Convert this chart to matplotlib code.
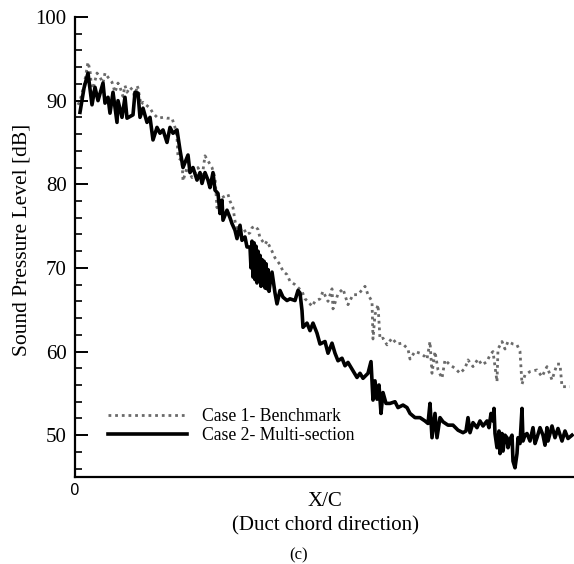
import numpy as np
import matplotlib.pyplot as plt

# Case 2 - multi-section duct (solid black)
x_case2 = [0.010, 0.018, 0.026, 0.034, 0.040, 0.046, 0.056, 0.060, 0.066, 0.070,
           0.076, 0.084, 0.086, 0.094, 0.100, 0.104, 0.116, 0.120, 0.126, 0.130,
           0.136, 0.144, 0.150, 0.156, 0.164, 0.170, 0.176, 0.184, 0.190, 0.196,
           0.204, 0.210, 0.216, 0.226, 0.230, 0.236, 0.244, 0.250, 0.254, 0.260,
           0.266, 0.270, 0.276, 0.280, 0.286, 0.290, 0.294, 0.296, 0.304, 0.310,
           0.314, 0.320, 0.324, 0.330, 0.334, 0.340, 0.344,
           0.350, 0.352, 0.354, 0.356, 0.358, 0.360, 0.362, 0.364, 0.366, 0.368,
           0.370, 0.372, 0.374, 0.376, 0.378, 0.380, 0.382, 0.384, 0.386, 0.388,
           0.390, 0.394, 0.400,
           0.404, 0.410, 0.416, 0.424, 0.430, 0.440, 0.446, 0.450, 0.454, 0.456,
           0.464, 0.470, 0.476, 0.484, 0.490, 0.500, 0.506, 0.514, 0.520, 0.526,
           0.534, 0.540, 0.546, 0.556, 0.564, 0.570, 0.576, 0.586, 0.592, 0.596,
           0.600, 0.604, 0.608, 0.612, 0.616, 0.622, 0.630, 0.640, 0.646, 0.656,
           0.664, 0.670, 0.680, 0.690, 0.700, 0.706, 0.710, 0.714, 0.720, 0.724,
           0.730, 0.736, 0.746, 0.756, 0.766, 0.776, 0.782, 0.786, 0.790, 0.796,
           0.804, 0.810, 0.816, 0.824, 0.828, 0.832, 0.836, 0.838, 0.840, 0.844,
           0.848, 0.850, 0.854, 0.856, 0.860, 0.864, 0.866, 0.870, 0.874, 0.876,
           0.880, 0.884, 0.886, 0.890, 0.894, 0.896, 0.900, 0.904, 0.910, 0.916,
           0.920, 0.924, 0.930, 0.936, 0.940, 0.944, 0.946, 0.954, 0.960, 0.966,
           0.974, 0.980, 0.986, 0.994]
spl_case2 = [88.6, 91.5, 93.3, 89.5, 91.6, 90.0, 92.1, 89.7, 90.4, 88.5,
             91.0, 87.4, 90.0, 88.0, 90.4, 87.9, 88.3, 91.0, 90.9, 88.0,
             89.1, 87.4, 88.0, 85.3, 86.8, 86.1, 86.5, 85.0, 86.8, 86.1,
             86.5, 84.1, 82.0, 83.5, 81.4, 82.0, 80.5, 81.4, 80.1, 81.4,
             80.5, 79.6, 81.4, 79.3, 78.9, 76.5, 78.1, 75.7, 76.9, 76.0,
             75.3, 74.5, 73.5, 75.1, 73.3, 73.7, 72.5,
             72.5, 70.0, 73.2, 68.9, 73.0, 68.6, 72.6, 68.2, 72.0, 68.4,
             71.5, 67.8, 71.0, 68.0, 70.8, 67.6, 70.5, 67.5, 69.8, 67.2,
             68.1, 69.5, 67.0,
             65.7, 67.3, 66.5, 66.1, 66.3, 66.1, 67.3, 67.0, 64.9, 62.9,
             63.4, 62.5, 63.4, 62.2, 60.9, 61.2, 59.8, 61.0, 59.8, 58.9,
             59.2, 58.3, 58.7, 57.7, 56.9, 57.4, 56.8, 57.4, 58.8, 54.2,
             56.5, 54.3, 56.0, 52.6, 55.1, 53.8, 53.8, 54.0, 53.3, 53.6,
             53.3, 52.6, 52.1, 52.1, 51.7, 51.4, 53.8, 49.7, 52.6, 49.7,
             52.1, 51.6, 51.2, 51.2, 50.6, 50.3, 50.5, 52.1, 50.3, 51.5,
             50.9, 51.7, 51.1, 51.7, 50.9, 52.6, 51.7, 53.2, 50.2, 48.5,
             50.5, 47.8, 50.2, 48.1, 50.0, 49.7, 48.5, 49.5, 50.0, 46.9,
             46.1, 47.8, 49.7, 49.0, 53.2, 49.3, 50.0, 50.2, 49.3, 50.9,
             49.0, 49.7, 50.9, 50.0, 48.8, 50.9, 49.3, 51.1, 49.7, 50.8,
             49.3, 50.5, 49.6, 50.0]

# Case 1 - benchmark duct (grey dotted)
x_case1 = [0.006, 0.010, 0.018, 0.026, 0.030, 0.034, 0.040, 0.044, 0.050, 0.056,
           0.060, 0.066, 0.074, 0.080, 0.086, 0.090, 0.096, 0.100, 0.104, 0.110,
           0.116, 0.120, 0.124, 0.126, 0.132, 0.136, 0.144, 0.150, 0.156, 0.166,
           0.176, 0.184, 0.194, 0.200, 0.204, 0.206, 0.214, 0.216, 0.224, 0.234,
           0.246, 0.254, 0.260, 0.266, 0.274, 0.280, 0.284, 0.286, 0.294, 0.306,
           0.310, 0.316, 0.320, 0.326, 0.336, 0.344, 0.350, 0.354, 0.360, 0.366,
           0.370, 0.380, 0.384, 0.394, 0.400, 0.410, 0.416, 0.424, 0.430, 0.440,
           0.454, 0.460, 0.466, 0.474, 0.480, 0.490, 0.496, 0.506, 0.514, 0.516,
           0.526, 0.536, 0.546, 0.556, 0.566, 0.576, 0.580, 0.586, 0.594, 0.596,
           0.600, 0.606, 0.610, 0.616, 0.624, 0.634, 0.644, 0.654, 0.666, 0.670,
           0.680, 0.690, 0.700, 0.704, 0.710, 0.714, 0.720, 0.726, 0.734, 0.740,
           0.750, 0.760, 0.770, 0.780, 0.786, 0.796, 0.806, 0.814, 0.824, 0.830,
           0.836, 0.844, 0.846, 0.854, 0.860, 0.866, 0.876, 0.884, 0.890, 0.894,
           0.900, 0.910, 0.924, 0.934, 0.944, 0.954, 0.964, 0.970, 0.974, 0.990]
spl_case1 = [89.5, 90.0, 91.8, 94.6, 93.6, 91.0, 92.4, 93.3, 92.8, 92.1,
             93.3, 92.8, 92.2, 91.0, 92.1, 91.6, 90.5, 91.8, 91.0, 91.6,
             91.2, 90.2, 91.8, 91.5, 89.5, 89.8, 89.4, 89.1, 88.5, 87.9,
             88.0, 87.9, 87.9, 86.8, 85.6, 83.2, 82.8, 80.4, 82.0, 80.8,
             82.0, 80.8, 83.4, 82.8, 82.0, 80.8, 77.2, 78.0, 78.4, 78.8,
             78.0, 77.2, 75.6, 74.4, 74.8, 74.0, 74.2, 74.8, 75.0, 74.6,
             73.6, 72.8, 73.2, 72.0, 71.2, 70.4, 69.6, 69.2, 68.4, 68.0,
             67.2, 66.3, 66.0, 65.4, 66.0, 66.3, 67.2, 66.0, 67.5, 65.1,
             66.9, 67.5, 65.6, 66.8, 66.8, 67.5, 67.8, 66.8, 66.0, 61.5,
             64.4, 65.6, 61.5, 61.6, 60.8, 61.6, 60.9, 61.0, 60.3, 59.1,
             60.0, 59.8, 59.4, 59.1, 61.2, 57.4, 60.0, 57.8, 56.8, 59.0,
             58.4, 58.0, 57.4, 58.0, 59.0, 58.2, 59.1, 58.4, 58.8, 59.6,
             60.0, 56.4, 60.3, 61.2, 60.3, 61.2, 60.9, 60.8, 60.0, 56.1,
             57.2, 57.6, 57.8, 57.0, 58.2, 56.6, 58.5, 58.5, 55.8, 55.8]

y_major = [50, 60, 70, 80, 90, 100]

plt.rcParams['font.family'] = ['Liberation Serif', 'DejaVu Serif']

fig = plt.figure(figsize=(5.74, 5.64), dpi=100)
W, H = 574, 564
ax = fig.add_axes([75 / W, 1 - 477 / H, (W - 75) / W, (477 - 17) / H])

ax.plot(x_case1, spl_case1, color='#6a6a6a', lw=2.0, linestyle=(0, (1, 1.4)),
        label='Case 1- Benchmark')
ax.plot(x_case2, spl_case2, color='black', lw=2.6, label='Case 2- Multi-section')

ax.set_xlim(0, 0.998)
ax.set_ylim(45, 100)

ax.spines['top'].set_visible(False)
ax.spines['right'].set_visible(False)
ax.spines['left'].set_linewidth(1.6)
ax.spines['bottom'].set_linewidth(1.6)

ax.set_yticks(y_major)
ax.set_yticks(np.arange(46, 100, 2), minor=True)
ax.tick_params(axis='y', which='major', direction='in', length=9, width=1.4,
               labelsize=15, pad=6)
ax.tick_params(axis='y', which='minor', direction='in', length=5, width=1.2)
ax.set_xticks([0])
ax.set_xticklabels(['0'], family='DejaVu Sans', fontsize=11)
ax.tick_params(axis='x', length=0, pad=4)

fig.text(22 / W, 1 - 240 / H, 'Sound Pressure Level [dB]', rotation=90,
         ha='center', va='center', fontsize=15.5)
fig.text(325 / W, 1 - 502 / H, 'X/C', ha='center', va='center', fontsize=15)
fig.text(325 / W, 1 - 526 / H, '(Duct chord direction)', ha='center', va='center',
         fontsize=15)
fig.text(299 / W, 1 - 555 / H, '(c)', ha='center', va='center', fontsize=12)

ax.legend(loc='center left', bbox_to_anchor=(108 / W, 1 - 426 / H),
          bbox_transform=fig.transFigure, frameon=False, fontsize=12.7,
          borderpad=0, borderaxespad=0, handlelength=4.48, handletextpad=0.85,
          labelspacing=0.1)

fig.savefig('out.png', dpi=100)
